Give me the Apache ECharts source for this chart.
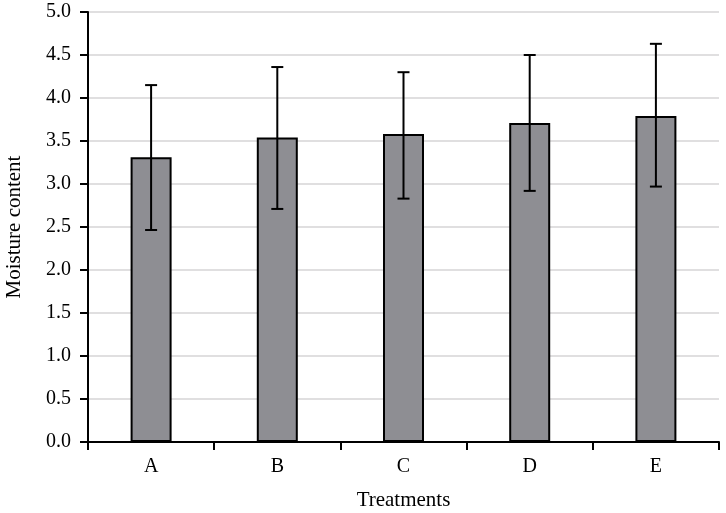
<!DOCTYPE html>
<html>
<head>
<meta charset="utf-8">
<script src="https://cdn.jsdelivr.net/npm/echarts@6/dist/echarts.min.js"></script>
<style>html,body{margin:0;padding:0;background:#fff}#c{width:726px;height:513px}</style>
</head>
<body>
<div id="c"></div>
<script>
const categories = ['A', 'B', 'C', 'D', 'E'];
const means = [3.31, 3.54, 3.58, 3.71, 3.79];
const errUpper = [4.15, 4.36, 4.30, 4.50, 4.63];
const errLower = [2.465, 2.71, 2.83, 2.92, 2.97];

const font = '"Liberation Serif", "DejaVu Serif", serif';
const chart = echarts.init(document.getElementById('c'));
chart.setOption({
  animation: false,
  backgroundColor: '#fff',
  grid: { left: 88, right: 7, top: 12, bottom: 71, containLabel: false, outerBoundsMode: 'none' },
  xAxis: {
    type: 'category',
    data: categories,
    name: 'Treatments',
    nameLocation: 'middle',
    nameGap: 48,
    nameTextStyle: { fontFamily: font, fontSize: 21, color: '#000' },
    axisLine: { lineStyle: { color: '#000', width: 2 } },
    axisTick: { show: true, length: 8, lineStyle: { color: '#000', width: 2 }, alignWithLabel: false },
    axisLabel: { fontFamily: font, fontSize: 20, color: '#000', margin: 15 },
    splitLine: { show: false }
  },
  yAxis: {
    type: 'value',
    min: 0, max: 5, interval: 0.5,
    name: 'Moisture content',
    nameLocation: 'middle',
    nameGap: 63,
    nameTextStyle: { fontFamily: font, fontSize: 21, color: '#000' },
    axisLine: { show: true, lineStyle: { color: '#000', width: 2 } },
    axisTick: { show: true, length: 8, lineStyle: { color: '#000', width: 2 } },
    axisLabel: { fontFamily: font, fontSize: 20, color: '#000', margin: 17, formatter: v => v.toFixed(1) },
    splitLine: { show: true, lineStyle: { color: '#e0dfe0', width: 2 } }
  },
  series: [
    {
      type: 'bar',
      data: means,
      barWidth: 41,
      itemStyle: { color: '#8e8e93', borderColor: '#000', borderWidth: 2 },
      z: 2
    },
    {
      type: 'custom',
      z: 3,
      data: categories.map((c, i) => [i, errLower[i], errUpper[i]]),
      renderItem: function (params, api) {
        const x = api.coord([api.value(0), 0])[0];
        const lo = api.coord([api.value(0), api.value(1)])[1];
        const hi = api.coord([api.value(0), api.value(2)])[1];
        const hw = 6;
        const st = { stroke: '#000', lineWidth: 2 };
        return {
          type: 'group',
          children: [
            { type: 'line', shape: { x1: x, y1: hi, x2: x, y2: lo }, style: st },
            { type: 'line', shape: { x1: x - hw, y1: hi, x2: x + hw, y2: hi }, style: st },
            { type: 'line', shape: { x1: x - hw, y1: lo, x2: x + hw, y2: lo }, style: st }
          ]
        };
      }
    }
  ]
});
</script>
</body>
</html>
